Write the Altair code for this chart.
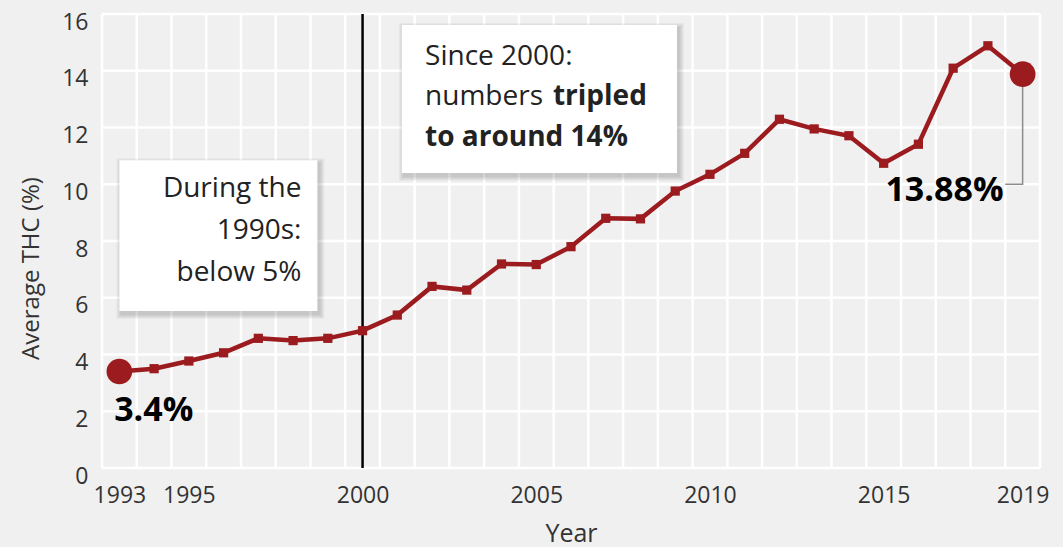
import altair as alt
import pandas as pd

# Average THC potency by year
years = list(range(1993, 2020))
thc = [3.4, 3.5, 3.77, 4.06, 4.57, 4.49, 4.57, 4.84, 5.39, 6.4, 6.27, 7.19, 7.17,
       7.8, 8.8, 8.78, 9.76, 10.35, 11.09, 12.29, 11.95, 11.71, 10.74, 11.41,
       14.09, 14.88, 13.88]
x_tick_years = [1993, 1995, 2000, 2005, 2010, 2015, 2019]
y_tick_values = [0, 2, 4, 6, 8, 10, 12, 14, 16]

RED = "#9b1b1f"
INK = "#222222"
FONT = "Open Sans"
BG = "#f0f0f0"

df = pd.DataFrame({"year": years, "thc": thc})
ends = df.iloc[[0, -1]].reset_index(drop=True)

x_scale = alt.Scale(domain=[1992.5, 2019.5], nice=False, zero=False)
y_scale = alt.Scale(domain=[0, 16], nice=False, zero=False)

X_AXIS = alt.Axis(values=x_tick_years, format="d", grid=False, ticks=False,
                  domain=False, labelFontSize=23, labelColor="#333333",
                  labelFont=FONT, labelPadding=16, labelFlush=False,
                  titleFont=FONT, titleFontSize=25, titleFontWeight="normal",
                  titleColor="#333333", titlePadding=14)
Y_AXIS = alt.Axis(values=y_tick_values, format="d", grid=False, ticks=False,
                  domain=False, labelFontSize=23, labelColor="#333333",
                  labelFont=FONT, labelPadding=14, labelOffset=8,
                  titleFont=FONT, titleFontSize=24, titleFontWeight="normal",
                  titleColor="#333333", titleX=-59, titleY=254)


def xq(field):
    return alt.X(field, scale=x_scale, axis=X_AXIS, title="Year")


def yq(field):
    return alt.Y(field, scale=y_scale, axis=Y_AXIS, title="Average THC (%)")


# white grid: one vertical line between every pair of years, horizontal every 2 points
vgrid = pd.DataFrame({"gx": [y - 0.5 for y in years] + [years[-1] + 0.5]})
hgrid = pd.DataFrame({"gy": y_tick_values})

grid_v = alt.Chart(vgrid).mark_rule(color="white", strokeWidth=2.5).encode(x=xq("gx:Q"))
grid_h = alt.Chart(hgrid).mark_rule(color="white", strokeWidth=2.5).encode(y=yq("gy:Q"))

# vertical marker at the year 2000
marker_2000 = alt.Chart(pd.DataFrame({"yr": [2000]})).mark_rule(
    color="black", strokeWidth=2.5).encode(x=xq("yr:Q"))

# annotation boxes with a soft drop shadow
boxes = pd.DataFrame({
    "x1": [1993.0, 2001.13], "x2": [1998.7, 2009.05],
    "y1": [10.85, 15.61], "y2": [5.53, 10.40],
})


def box_layer(**mark_kw):
    return alt.Chart(boxes).mark_rect(**mark_kw).encode(
        x=xq("x1:Q"), x2="x2:Q", y=yq("y1:Q"), y2="y2:Q")


shadows = [
    box_layer(color="black", opacity=0.035, xOffset=2 - i, x2Offset=2 + i,
              yOffset=3 - i, y2Offset=3 + i)
    for i in range(1, 6)
]
panels = box_layer(color="white")

# connector from the 2019 point to its label
conn = pd.DataFrame({"cx": [2019, 2019, 2018.5], "cy": [thc[-1], 10.0, 10.0],
                     "o": [0, 1, 2]})
connector = alt.Chart(conn).mark_line(color="#8c8c8c", strokeWidth=1.5).encode(
    x=xq("cx:Q"), y=yq("cy:Q"), order="o:O")

line = alt.Chart(df).mark_line(color=RED, strokeWidth=4.5).encode(
    x=xq("year:Q"), y=yq("thc:Q"))
squares = alt.Chart(df).mark_point(shape="square", filled=True, color=RED,
                                   size=85, opacity=1).encode(
    x=xq("year:Q"), y=yq("thc:Q"))
end_dots = alt.Chart(ends).mark_circle(color=RED, size=660, opacity=1).encode(
    x=xq("year:Q"), y=yq("thc:Q"))

# value labels for the first and last year
end_labels = pd.DataFrame({
    "lx": [1992.85, 2018.45],
    "ly": [2.0, 9.75],
    "label": [f"{thc[0]:g}%", f"{thc[-1]:g}%"],
})
first_label = alt.Chart(end_labels.iloc[[0]]).mark_text(
    font=FONT, fontSize=34, fontWeight="bold", color="black", align="left",
    baseline="middle").encode(x=xq("lx:Q"), y=yq("ly:Q"), text="label:N")
last_label = alt.Chart(end_labels.iloc[[1]]).mark_text(
    font=FONT, fontSize=34, fontWeight="bold", color="black", align="right",
    baseline="middle").encode(x=xq("lx:Q"), y=yq("ly:Q"), text="label:N")

# box texts
box1_text = pd.DataFrame({"tx": [1998.24] * 3, "ty": [9.83, 8.35, 6.87],
                          "t": ["During the", "1990s:", "below 5%"]})
box2_regular = pd.DataFrame({"tx": [2001.8, 2001.8], "ty": [14.48, 13.07],
                             "t": ["Since 2000:", "numbers"]})
box2_bold = pd.DataFrame({"tx": [2005.48, 2001.8], "ty": [13.07, 11.63],
                          "t": ["tripled", "to around 14%"]})


def text_layer(data, align, weight):
    return alt.Chart(data).mark_text(
        font=FONT, fontSize=28, fontWeight=weight, color=INK, align=align,
        baseline="middle").encode(x=xq("tx:Q"), y=yq("ty:Q"), text="t:N")


chart = alt.layer(
    grid_v, grid_h, *shadows, panels, marker_2000, connector, line, squares,
    end_dots, first_label, last_label,
    text_layer(box1_text, "right", "normal"),
    text_layer(box2_regular, "left", "normal"),
    text_layer(box2_bold, "left", "bold"),
).properties(
    width=938, height=454, background=BG,
    padding={"left": 102, "top": 14, "right": 23, "bottom": 79},
    autosize=alt.AutoSizeParams(type="none"),
).configure_view(stroke=None, fill=BG)

chart.save("out.html", embed_options={"renderer": "svg", "actions": False})
